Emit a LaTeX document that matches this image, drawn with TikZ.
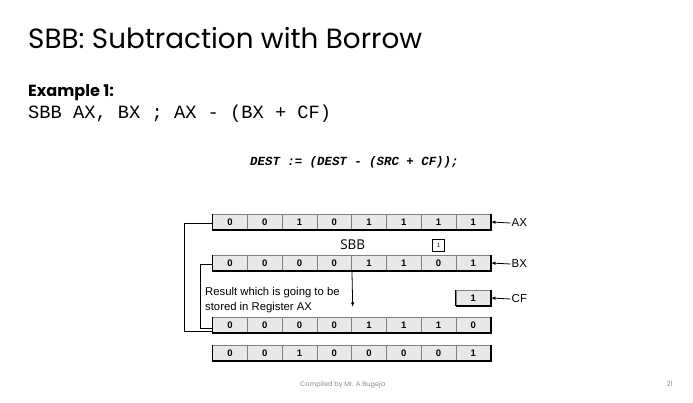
\documentclass[tikz,border=0pt]{standalone}
\usepackage{fontspec}
\usetikzlibrary{arrows.meta,calc}
\newfontfamily\titlefont{Poppins}
\newfontfamily\monofont{Liberation Mono}
\newfontfamily\arialfont{Liberation Sans}
\newfontfamily\sbbfont{Open Sans}
\definecolor{cellfill}{HTML}{E8E8E8}
\definecolor{cellline}{HTML}{808080}
\definecolor{footgray}{HTML}{8C8C8C}
\tikzset{
  cell/.style={rectangle, draw=cellline, fill=cellfill, line width=0.5pt,
    minimum width=34.75pt, minimum height=15pt, inner sep=0pt,
    font=\arialfont\bfseries\fontsize{9.5}{10}\selectfont},
  rowedge/.style={black, line width=1.5pt},
  conn/.style={black, line width=0.8pt},
  lblarrow/.style={black, line width=0.8pt, -{Latex[length=4.5pt,width=3.5pt]}},
  lbl/.style={anchor=west, inner sep=0pt, font=\arialfont\fontsize{11.5}{12}\selectfont},
}
\newcommand{\regrow}[3]{%
  \foreach \v [count=\i] in {#3} {
    \node[cell] (#1\i) at ({212.7+34.75*(\i-0.5)}, #2) {\v};
  }
  \draw[rowedge] (#11.south west) -- (#18.south east) -- (#18.north east);
  \draw[black, line width=0.7pt] (#11.south west) -- (#11.north west);
}
\begin{document}
\begin{tikzpicture}[x=1pt, y=-1pt]
\useasboundingbox[fill=white] (0,0) rectangle (693,402);
% title and text
\node[anchor=base west, inner sep=0pt, font=\titlefont\fontsize{27.8}{30}\selectfont] (title) at (28,48.3) {SBB: Subtraction with Borrow};
\node[anchor=base west, inner sep=0pt, font=\titlefont\bfseries\fontsize{16.1}{18}\selectfont] (ex) at (28,96.5) {Example 1:};
\node[anchor=base west, inner sep=0pt, font=\monofont\fontsize{18.7}{20}\selectfont] (code) at (28,118.3) {SBB AX, BX ; AX - (BX + CF)};
\node[anchor=base west, inner sep=0pt, font=\monofont\bfseries\itshape\fontsize{12.4}{14}\selectfont] (dest) at (250,165) {DEST := (DEST - (SRC + CF));};
% registers
\regrow{ax}{222}{0,0,1,0,1,1,1,1}
\regrow{bx}{263}{0,0,0,0,1,1,0,1}
\regrow{res}{325}{0,0,0,0,1,1,1,0}
\regrow{fin}{353}{0,0,1,0,0,0,0,1}
\node[cell] (cf) at (473.3,298) {1};
\draw[rowedge] (cf.south west) -- (cf.south east) -- (cf.north east);
\draw[black, line width=0.7pt] (cf.south west) -- (cf.north west);
% small box and SBB
\node[draw=black, line width=0.8pt, fill=white, minimum size=12pt, inner sep=0pt, font=\arialfont\fontsize{6}{7}\selectfont] (cbox) at (438.6,245) {1};
\node[inner sep=0pt, font=\sbbfont\fontsize{13.5}{15}\selectfont] (sbb) at (352.7,245) {SBB};
% labels
\node[lbl] (axl) at (511.5,223) {AX};
\node[lbl] (bxl) at (511.5,264) {BX};
\node[lbl] (cfl) at (511.5,299) {CF};
\draw[lblarrow] ([xshift=-1pt]axl.west) -- (ax8.east);
\draw[lblarrow] ([xshift=-1pt]bxl.west) -- (bx8.east);
\draw[lblarrow] ([xshift=-1pt]cfl.west) -- (cf.east);
% result text and arrow
\node[anchor=west, align=left, inner sep=0pt, font=\arialfont\fontsize{11.3}{15}\selectfont] (restext) at (205,300.5) {Result which is going to be\\stored in Register AX};
\coordinate (arrend) at (352.7,307);
\draw[conn, -{Latex[length=4.5pt,width=3.5pt]}] (bx4.south east) -- (arrend);
% brackets
\draw[conn] ([yshift=-1pt]ax1.west) -- ++(-28.5,0) |- ([yshift=-6pt]res1.west);
\draw[conn] ([yshift=-1pt]bx1.west) -- ++(-12,0) |- ([yshift=-3pt]res1.west);
% footer
\node[anchor=base west, inner sep=0pt, text=footgray, font=\titlefont\fontsize{6.6}{8}\selectfont] (foot) at (300,386) {Compiled by Mr. A Bugeja};
\node[anchor=base east, inner sep=0pt, text=footgray, font=\titlefont\fontsize{6.6}{8}\selectfont] (page) at (673,386) {21};
\end{tikzpicture}
\end{document}
